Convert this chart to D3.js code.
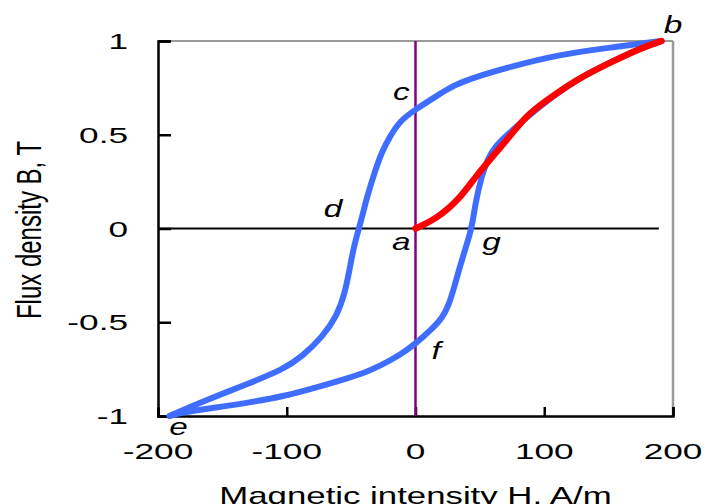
<!DOCTYPE html>
<html>
<head>
<meta charset="utf-8">
<script src="https://cdn.jsdelivr.net/npm/d3@7"></script>
<style>
  body { margin: 0; background: #fff; }
  text { font-family: "Liberation Sans", Arial, sans-serif; fill: #000; }
</style>
</head>
<body>
<svg id="chart" width="704" height="504"></svg>
<script>
// données (H en A/m, B en T)
const upperH = [191, 151, 112, 73, 45, 30, 16, 0, -12, -20, -26, -30, -34, -38, -41, -44, -48, -51, -55, -61, -72, -88, -103, -129, -168, -191];
const upperB = [1.0, 0.965, 0.928, 0.862, 0.805, 0.765, 0.705, 0.635, 0.575, 0.49, 0.41, 0.335, 0.25, 0.16, 0.075, 0, -0.1, -0.21, -0.35, -0.465, -0.576, -0.683, -0.752, -0.825, -0.93, -1.0];

const lowerH = [-191, -181, -155, -129, -103, -77, -51, -38, -26, -12, 0, 13, 21, 26, 30, 34, 38, 42, 44, 47, 51, 56, 62, 73, 86, 99, 125, 151, 176, 191];
const lowerB = [-1.0, -0.98, -0.955, -0.928, -0.896, -0.848, -0.795, -0.765, -0.727, -0.675, -0.615, -0.535, -0.475, -0.405, -0.315, -0.215, -0.125, -0.035, 0.02, 0.15, 0.27, 0.37, 0.44, 0.51, 0.59, 0.665, 0.795, 0.885, 0.965, 1.0];

const initH = [0, 16, 34, 47, 60, 73, 86, 99, 125, 151, 176, 191];
const initB = [0, 0.05, 0.155, 0.28, 0.385, 0.49, 0.60, 0.67, 0.795, 0.885, 0.965, 1.0];

const xTicks = [-200, -100, 0, 100, 200];
const yTicks = [-1, -0.5, 0, 0.5, 1];
const yTickLabels = ["-1", "-0.5", "0", "0.5", "1"];

// lettres des points remarquables
const pointNames = ["a", "b", "c", "d", "e", "f", "g"];
const pointH = [-11, 200, -11, -64, -184, 16, 59];
const pointB = [-0.117, 1.043, 0.685, 0.061, -1.1, -0.696, -0.112];

const svg = d3.select("#chart");

const x = d3.scaleLinear().domain([-200, 200]).range([158, 673]);
const y = d3.scaleLinear().domain([-1, 1]).range([416, 41]);

// texte étiré horizontalement comme sur l'original
function stretchedText(px, py, str, size, sx, anchor, italic) {
    return svg.append("text")
        .attr("transform", "translate(" + px + "," + py + ") scale(" + sx + ",1)")
        .attr("text-anchor", anchor)
        .style("font-size", size + "px")
        .style("font-style", italic ? "italic" : "normal")
        .text(str);
}

// cadre : haut et droite en gris
svg.append("line").attr("x1", x(-200)).attr("x2", x(200)).attr("y1", y(1)).attr("y2", y(1))
    .attr("stroke", "#9a9a9a").attr("stroke-width", 2);
svg.append("line").attr("x1", x(200)).attr("x2", x(200)).attr("y1", y(1)).attr("y2", y(-1))
    .attr("stroke", "#9a9a9a").attr("stroke-width", 2.5);

// axes gauche et bas en noir, graduations vers l'intérieur
const yAxis = d3.axisLeft(y).tickValues(yTicks).tickSize(-13).tickFormat("");
const xAxis = d3.axisBottom(x).tickValues(xTicks).tickSize(-9).tickFormat("");

const gy = svg.append("g").attr("transform", "translate(" + x(-200) + ",0)").call(yAxis);
const gx = svg.append("g").attr("transform", "translate(0," + y(-1) + ")").call(xAxis);
[gy, gx].forEach(g => {
    g.select(".domain").attr("stroke", "#000").attr("stroke-width", 2.5);
    g.selectAll(".tick line").attr("stroke", "#000").attr("stroke-width", 2.5);
});

// étiquettes des graduations
yTicks.forEach((v, i) => {
    stretchedText(128, y(v) + 8, yTickLabels[i], 22, 1.6, "end", false);
});
xTicks.forEach(v => {
    stretchedText(x(v), 459, String(v), 22, 1.6, "middle", false);
});

// titres des axes
stretchedText(x(0), 504, "Magnetic intensity H, A/m", 24, 1.45, "middle", false);
svg.append("text")
    .attr("transform", "translate(41,230) scale(1.45,1) rotate(-90)")
    .attr("text-anchor", "middle")
    .style("font-size", "24px")
    .text("Flux density B, T");

// ligne B = 0 et ligne H = 0
svg.append("line").attr("x1", x(-200)).attr("x2", x(189)).attr("y1", y(0)).attr("y2", y(0))
    .attr("stroke", "#000").attr("stroke-width", 2);
svg.append("line").attr("x1", x(0)).attr("x2", x(0)).attr("y1", y(1)).attr("y2", y(-1))
    .attr("stroke", "#800080").attr("stroke-width", 2.5);

// courbes lissées
const line = d3.line().x(d => x(d[0])).y(d => y(d[1])).curve(d3.curveBasis);
const upper = upperH.map((h, i) => [h, upperB[i]]);
const lower = lowerH.map((h, i) => [h, lowerB[i]]);
const initial = initH.map((h, i) => [h, initB[i]]);

[upper, lower].forEach(pts => {
    svg.append("path").attr("d", line(pts)).attr("fill", "none")
        .attr("stroke", "#3f6dff").attr("stroke-width", 6).attr("stroke-linecap", "round");
});
svg.append("path").attr("d", line(initial)).attr("fill", "none")
    .attr("stroke", "#ff0000").attr("stroke-width", 6.5).attr("stroke-linecap", "round");

// lettres
pointNames.forEach((n, i) => {
    stretchedText(x(pointH[i]), y(pointB[i]), n, 23, 1.45, "middle", true);
});
</script>
</body>
</html>
